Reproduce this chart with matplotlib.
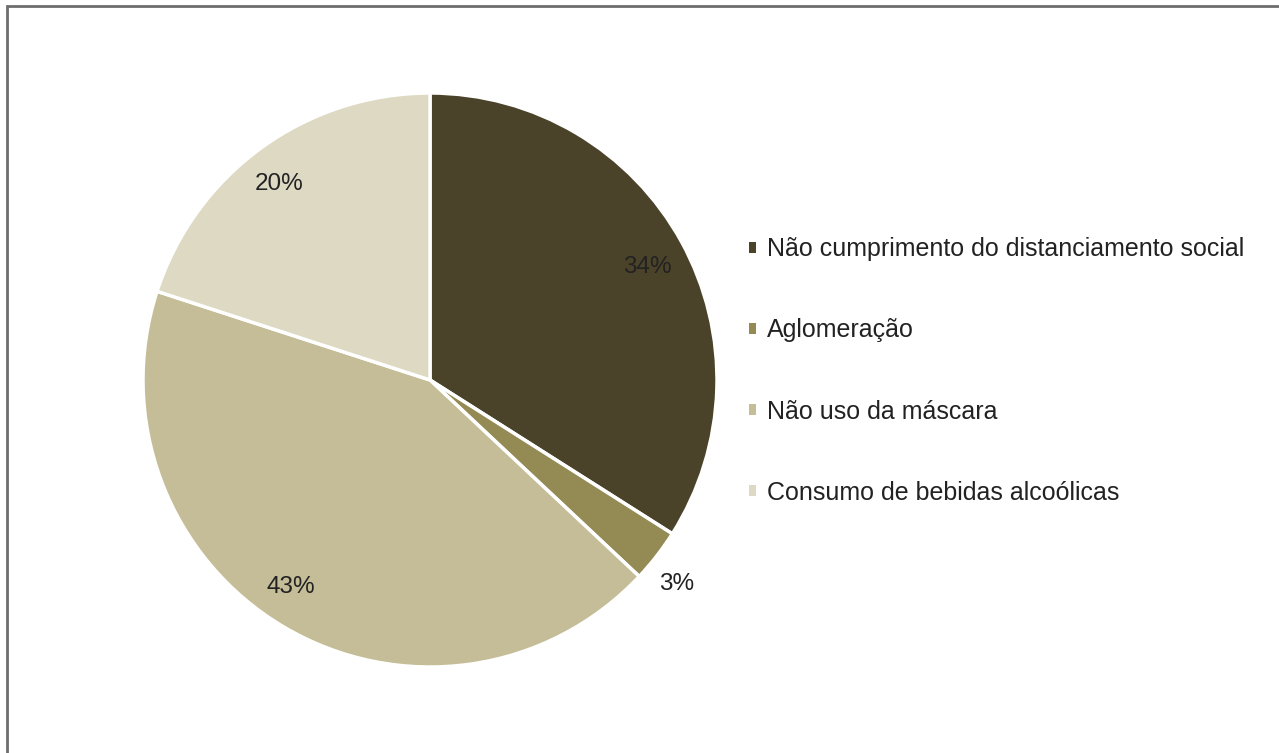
import matplotlib.pyplot as plt
import numpy as np
from matplotlib.patches import Rectangle, Patch

plt.rcParams['font.family'] = ['Liberation Sans', 'DejaVu Sans']

# --- dados ---
categorias = ["Não cumprimento do distanciamento social",
              "Aglomeração",
              "Não uso da máscara",
              "Consumo de bebidas alcoólicas"]
valores = [34, 3, 43, 20]
cores = ["#4a4229", "#948a54", "#c4bd97", "#ddd9c3"]

# posição dos rótulos (distância relativa ao raio, desvio angular em graus)
dist_rotulo = [0.853, 1.113, 0.867, 0.86]
desvio_rotulo = [-1.2, -1.8, -3.3, 1.6]

fig = plt.figure(figsize=(12.79, 7.53), dpi=100)

# moldura cinza (cantos direito/inferior saem da imagem)
fig.patches.append(Rectangle((7 / 1279, -0.05), 1.2, (753 - 6) / 753 + 0.05,
                             transform=fig.transFigure, fill=False,
                             edgecolor="#6e6e6e", linewidth=2))

# eixo quadrado para a pizza: centro (430, 380), raio 287 px
cx, cy, r = 430, 380, 287
ax = fig.add_axes([(cx - r) / 1279, (753 - cy - r) / 753, 2 * r / 1279, 2 * r / 753])

wedges, _, autotexts = ax.pie(
    valores, colors=cores, startangle=90, counterclock=False,
    autopct="%1.0f%%", pctdistance=0.855, labels=[""] * 4,
    wedgeprops=dict(edgecolor="white", linewidth=2.5),
    textprops=dict(fontsize=17.5, color="#222222"))

# reposiciona os rótulos como no original (o de 3% fica fora da fatia)
for w, t, d, off in zip(wedges, autotexts, dist_rotulo, desvio_rotulo):
    ang = np.radians((w.theta1 + w.theta2) / 2 + off)
    t.set_position((d * np.cos(ang), d * np.sin(ang)))

ax.set_xlim(-1, 1)
ax.set_ylim(-1, 1)
ax.set_aspect("equal")

handles = [Patch(facecolor=c, edgecolor="none") for c in cores]
fig.legend(handles, categorias, loc="center left", bbox_to_anchor=(726 / 1279, 1 - 371 / 753),
           frameon=False, fontsize=18, handlelength=0.3, handleheight=0.3,
           handletextpad=0.45, labelspacing=2.29, labelcolor="#222222")

plt.savefig("out.png", dpi=100)
